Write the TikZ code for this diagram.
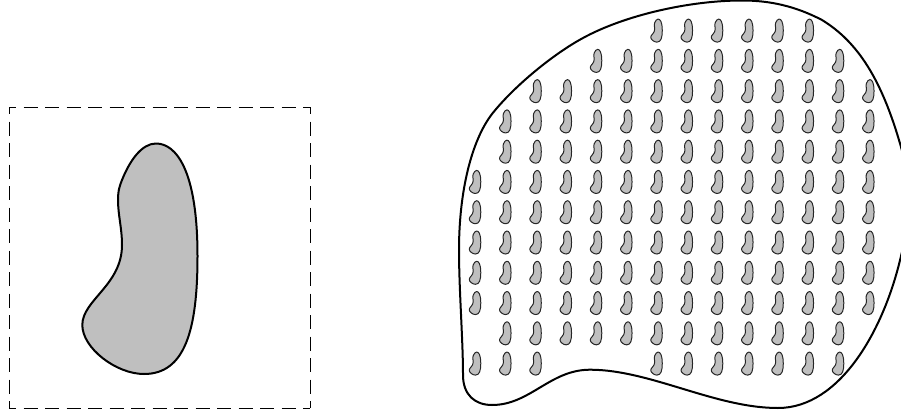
\documentclass[tikz,border=0pt]{standalone}
\definecolor{beanfill}{HTML}{BFBFBF}
\newcommand{\beanpath}{(156,143.5) .. controls (176,143.5) and (197.5,170) .. (197.5,256) .. controls (197.5,330) and (185,374) .. (144,374) .. controls (116,374) and (82.3,348) .. (82.3,325) .. controls (82.3,300) and (122,285) .. (122,245) .. controls (122,228) and (118,215) .. (118,200) .. controls (118,190) and (120,185) .. (122,180) .. controls (130,160) and (142,143.5) .. (156,143.5) -- cycle}
\tikzset{
  beanbig/.style={draw=black,fill=beanfill,line width=2pt,line join=round},
  beansmall/.style={draw=black!85,fill=beanfill,line width=1pt,line join=round},
  regionbox/.style={draw=black,line width=1pt,dash pattern=on 14pt off 7.5pt,dash phase=7pt},
  outline/.style={draw=black,line width=2pt,line join=round}
}
\begin{document}
\begin{tikzpicture}[x=1pt,y=-1pt]
\useasboundingbox (0,0) rectangle (901,412);
\clip (0,0) rectangle (901,412);
\coordinate (tl) at (9,107);
\coordinate (tr) at (310,107);
\coordinate (bl) at (9,408);
\coordinate (br) at (310,408);
\draw[regionbox] (tl) -- (tr) -- (br);
\draw[regionbox] (tl) -- (bl) -- (br);
\draw[beanbig] \beanpath;
\draw[outline] (742,0.5) .. controls (690,0.5) and (625,15) .. (583,38)
 .. controls (555,53) and (515,85) .. (492,114)
 .. controls (472,140) and (459,190) .. (459,250)
 .. controls (459,290) and (463,340) .. (463,375)
 .. controls (463,395) and (475,405) .. (492,405)
 .. controls (530,405) and (550,369.7) .. (590,369.7)
 .. controls (650,369.7) and (715,408) .. (778,408)
 .. controls (840,408) and (884,330) .. (901,256)
 .. controls (911,216) and (911,183) .. (901,147)
 .. controls (882,80) and (858,42) .. (822,20)
 .. controls (795,6) and (770,0.5) .. (742,0.5) -- cycle;
\foreach \r/\a/\b in {0/6/11,1/4/12,2/2/13,3/1/13,4/1/13,5/0/13,6/0/13,7/0/13,8/0/13,9/0/13,10/1/12,11/0/2,11/6/12}{
  \foreach \c in {\a,...,\b}{
    \draw[beansmall,shift={({475+30.25*\c},{30.6+30.27*\r})},scale=0.1,shift={(-139.9,-258.7)}] \beanpath;
  }
}
\end{tikzpicture}
\end{document}
